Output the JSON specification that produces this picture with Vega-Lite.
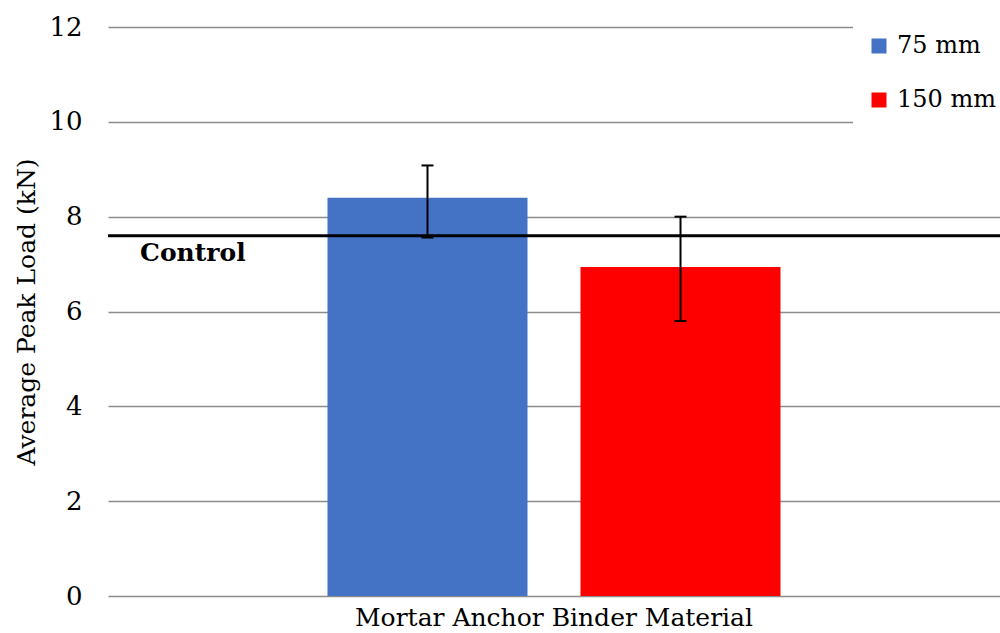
{
  "$schema": "https://vega.github.io/schema/vega-lite/v6.json",
  "width": 892,
  "height": 569,
  "autosize": {"type": "none"},
  "padding": {"left": 108, "top": 27, "right": 0, "bottom": 37},
  "background": "white",
  "config": {
    "view": {"stroke": null},
    "font": "DejaVu Serif"
  },
  "datasets": {
    "bars": [
      {"category": "Mortar Anchor Binder Material", "series": "75 mm", "value": 8.40, "low": 7.56, "high": 9.08},
      {"category": "Mortar Anchor Binder Material", "series": "150 mm", "value": 6.94, "low": 5.80, "high": 8.00}
    ],
    "control": [{"control": 7.6, "label": "Control"}]
  },
  "layer": [
    {
      "data": {"name": "bars"},
      "mark": {"type": "bar"},
      "encoding": {
        "x": {
          "field": "category", "type": "nominal",
          "scale": {"paddingOuter": 0.4845, "paddingInner": 0},
          "axis": {"title": null, "labelAngle": 0, "labelFontSize": 25, "labelColor": "black", "domain": false, "ticks": false, "labelPadding": 9, "grid": false, "labelLimit": 0}
        },
        "xOffset": {"field": "series", "type": "nominal", "sort": ["75 mm", "150 mm"], "scale": {"paddingInner": 0.2095, "paddingOuter": 0}},
        "y": {
          "field": "value", "type": "quantitative",
          "scale": {"domain": [0, 12], "nice": false},
          "axis": {
            "title": "Average Peak Load (kN)", "titleFontSize": 25, "titleFontWeight": "normal", "titleColor": "black",
            "labelFontSize": 26, "labelColor": "black",
            "values": [0, 2, 4, 6, 8, 10, 12], "domain": false, "ticks": false, "labelPadding": 26,
            "gridColor": "#8c8c8c", "gridWidth": 1.5, "gridOpacity": 1, "titlePadding": 9
          }
        },
        "color": {
          "field": "series", "type": "nominal", "sort": ["75 mm", "150 mm"],
          "scale": {"domain": ["75 mm", "150 mm"], "range": ["#4472C4", "#FF0000"]},
          "legend": {
            "orient": "none", "legendX": 745, "legendY": -7, "title": null,
            "fillColor": "white", "padding": 14, "symbolType": "square", "symbolSize": 225,
            "labelFontSize": 24, "labelColor": "black", "labelLimit": 0,
            "rowPadding": 30, "labelOffset": 6, "symbolStrokeWidth": 0, "symbolOpacity": 1
          }
        }
      }
    },
    {
      "data": {"name": "bars"},
      "mark": {"type": "rule", "color": "black", "strokeWidth": 2},
      "encoding": {
        "x": {"field": "category", "type": "nominal"},
        "xOffset": {"field": "series", "type": "nominal", "sort": ["75 mm", "150 mm"]},
        "y": {"field": "low", "type": "quantitative"},
        "y2": {"field": "high"}
      }
    },
    {
      "data": {"name": "bars"},
      "mark": {"type": "tick", "color": "black", "thickness": 2, "size": 12, "orient": "horizontal", "opacity": 1},
      "encoding": {
        "x": {"field": "category", "type": "nominal"},
        "xOffset": {"field": "series", "type": "nominal", "sort": ["75 mm", "150 mm"]},
        "y": {"field": "high", "type": "quantitative"}
      }
    },
    {
      "data": {"name": "bars"},
      "mark": {"type": "tick", "color": "black", "thickness": 2, "size": 12, "orient": "horizontal", "opacity": 1},
      "encoding": {
        "x": {"field": "category", "type": "nominal"},
        "xOffset": {"field": "series", "type": "nominal", "sort": ["75 mm", "150 mm"]},
        "y": {"field": "low", "type": "quantitative"}
      }
    },
    {
      "data": {"name": "control"},
      "mark": {"type": "rule", "color": "black", "strokeWidth": 3},
      "encoding": {
        "y": {"field": "control", "type": "quantitative"}
      }
    },
    {
      "data": {"name": "control"},
      "mark": {"type": "text", "align": "left", "baseline": "top", "dx": 32, "dy": 5, "fontSize": 25, "fontWeight": "bold", "color": "black"},
      "encoding": {
        "x": {"value": 0},
        "y": {"field": "control", "type": "quantitative"},
        "text": {"field": "label"}
      }
    }
  ]
}
